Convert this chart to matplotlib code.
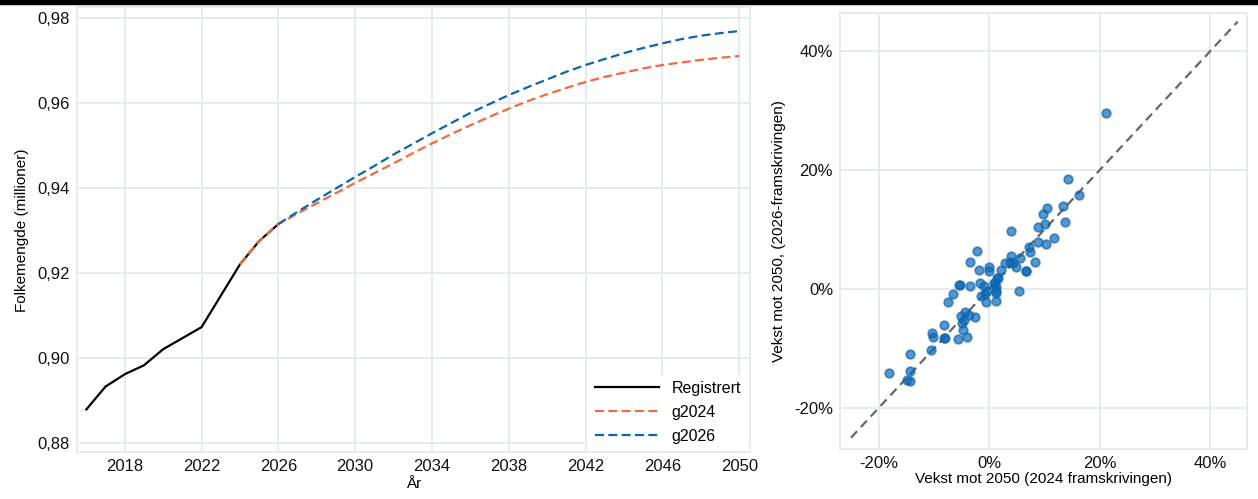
import matplotlib
matplotlib.use("Agg")
import matplotlib.pyplot as plt
from matplotlib.ticker import FuncFormatter, FixedLocator
from matplotlib.patches import Rectangle

plt.rcParams['font.family'] = ['Liberation Sans', 'DejaVu Sans']

# --- left panel: population (millions) ---
years_reg = [2016, 2017, 2018, 2019, 2020, 2021, 2022, 2023, 2024, 2025, 2026]
pop_reg = [0.8878, 0.8932, 0.8961, 0.8982, 0.9020, 0.9046, 0.9072, 0.9146, 0.9220, 0.9275, 0.9315]

years_g2024 = list(range(2024, 2051))
pop_g2024 = [0.9220, 0.9275, 0.9315, 0.9340, 0.9364, 0.9388, 0.9412, 0.9435, 0.9458,
             0.9482, 0.9505, 0.9527, 0.9548, 0.9568, 0.9587, 0.9605, 0.9621, 0.9636,
             0.9650, 0.9662, 0.9672, 0.9682, 0.9690, 0.9696, 0.9702, 0.9707, 0.9711]

years_g2026 = list(range(2026, 2051))
pop_g2026 = [0.9315, 0.9344, 0.9372, 0.9399, 0.9426, 0.9452, 0.9479, 0.9504, 0.9529,
             0.9553, 0.9577, 0.9598, 0.9619, 0.9638, 0.9656, 0.9674, 0.9690, 0.9704,
             0.9718, 0.9730, 0.9741, 0.9751, 0.9759, 0.9765, 0.9770]

# --- right panel: growth to 2050 in percent (2024 proj, 2026 proj) ---
growth_2024 = [21.1, 14.2, 16.3, 13.3, 10.4, 9.8, 13.8, 10.1, 8.9, 4.0, 11.8, 8.9, 10.3,
               7.3, 7.4, -2.1, 4.0, 5.6, -3.4, 2.8, 3.8, 4.4, 4.8, 8.3, 0.0, 0.0, -1.8,
               2.2, 6.6, 6.7, 1.4, 1.1, -5.4, -5.2, -3.4, -1.6, -1.0, 0.8, 1.2, -0.4,
               1.3, -1.4, -6.6, -0.5, 1.3, -7.4, 5.4, -5.0, -4.4, -3.6, -2.5, -4.9,
               -8.1, -4.8, -10.4, -10.2, -8.1, -8.0, -5.6, -4.0, -10.5, -14.4, -14.4,
               -18.1, -14.8, -14.3, -0.7, 1.3, 1.7, -4.6]
growth_2026 = [29.6, 18.6, 15.9, 14.0, 13.7, 12.7, 11.3, 10.9, 10.4, 9.7, 8.6, 8.0, 7.6,
               7.1, 6.2, 6.4, 5.5, 5.2, 4.5, 4.4, 4.5, 4.4, 3.8, 4.6, 3.7, 3.0, 3.2,
               3.2, 3.0, 3.0, 1.8, 1.0, 0.7, 0.7, 0.6, 1.0, 0.5, 1.0, 0.4, -0.3,
               -0.7, -1.1, -0.8, -2.2, -2.0, -2.2, -0.4, -4.5, -3.9, -4.4, -4.7, -5.7,
               -6.0, -6.8, -7.4, -8.1, -8.2, -8.2, -8.4, -8.1, -10.2, -11.0, -13.8,
               -14.1, -15.3, -15.5, -0.8, -0.4, 1.8, -5.2]
diag = [-25, 45]

grid_col = '#e6ebeb'
blue = '#0b65b3'
orange = '#f26a3b'

fig = plt.figure(figsize=(12.58, 4.99), dpi=100)
fig.patches.append(Rectangle((0, 1 - 3.5 / 499), 1, 3.5 / 499, transform=fig.transFigure,
                             color='black', zorder=10))

ax1 = fig.add_axes([0.061, 0.0936, 0.535, 0.8918])
ax2 = fig.add_axes([0.6677, 0.1002, 0.3238, 0.8743])

for ax in (ax1, ax2):
    ax.set_facecolor('white')
    ax.grid(True, color=grid_col, linewidth=1.4)
    ax.set_axisbelow(True)
    for s in ax.spines.values():
        s.set_color(grid_col)
        s.set_linewidth(1.4)
    ax.tick_params(length=0, labelsize=12, colors='#111111', pad=5)

ax1.plot(years_reg, pop_reg, color='black', lw=1.6, label='Registrert')
ax1.plot(years_g2024, pop_g2024, color=orange, lw=1.6, ls=(0, (4, 2)), label='g2024')
ax1.plot(years_g2026, pop_g2026, color=blue, lw=1.6, ls=(0, (4, 2)), label='g2026')
ax1.set_xlim(2015.5, 2050.55)
ax1.set_ylim(0.8777, 0.9826)
ax1.xaxis.set_major_locator(FixedLocator(range(2018, 2051, 4)))
ax1.yaxis.set_major_locator(FixedLocator([0.88, 0.90, 0.92, 0.94, 0.96, 0.98]))
ax1.yaxis.set_major_formatter(FuncFormatter(lambda v, p: f"{v:.2f}".replace('.', ',')))
ax1.set_xlabel('År', fontsize=11, labelpad=2)
ax1.set_ylabel('Folkemengde (millioner)', fontsize=11, labelpad=6)
leg = ax1.legend(loc='lower right', fontsize=11.5, handlelength=4, frameon=True,
                 fancybox=False, borderaxespad=0.15, labelspacing=0.55)
leg.get_frame().set_facecolor('white')
leg.get_frame().set_edgecolor('none')
leg.get_frame().set_alpha(1)

ax2.plot(diag, diag, color='#666666', lw=1.6, ls=(0, (4, 2.5)), zorder=2)
ax2.scatter(growth_2024, growth_2026, s=38, color=blue, alpha=0.68, linewidths=1.3,
            edgecolors=blue, zorder=3)
ax2.set_xlim(-27, 46.75)
ax2.set_ylim(-26.9, 46.5)
ax2.xaxis.set_major_locator(FixedLocator([-20, 0, 20, 40]))
ax2.yaxis.set_major_locator(FixedLocator([-20, 0, 20, 40]))
pct = FuncFormatter(lambda v, p: f"{v:.0f}%")
ax2.xaxis.set_major_formatter(pct)
ax2.yaxis.set_major_formatter(pct)
ax2.set_xlabel('Vekst mot 2050 (2024 framskrivingen)', fontsize=11, labelpad=1)
ax2.set_ylabel('Vekst mot 2050, (2026-framskrivingen)', fontsize=11, labelpad=6)

fig.savefig('out.png', dpi=100)
